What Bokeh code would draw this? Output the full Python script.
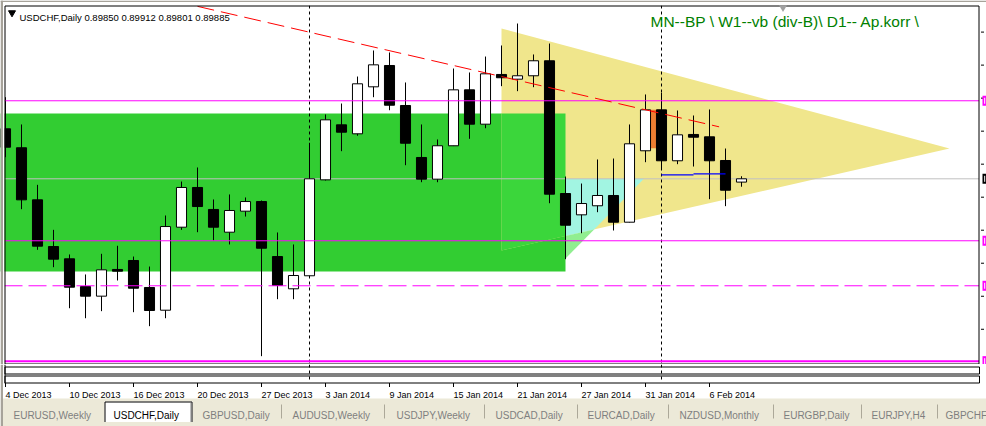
import numpy as np
from bokeh.plotting import figure
from bokeh.models import Range1d, ColumnDataSource
from bokeh.layouts import column
from bokeh.embed import file_html
from bokeh.resources import INLINE
from bokeh.core.properties import value

# ---------------- data ----------------
symbol = "USDCHF,Daily"
dates = ["4 Dec 2013", "5 Dec 2013", "6 Dec 2013", "9 Dec 2013", "10 Dec 2013", "11 Dec 2013",
         "12 Dec 2013", "13 Dec 2013", "16 Dec 2013", "17 Dec 2013", "18 Dec 2013", "19 Dec 2013",
         "20 Dec 2013", "23 Dec 2013", "24 Dec 2013", "26 Dec 2013", "27 Dec 2013", "30 Dec 2013",
         "31 Dec 2013", "2 Jan 2014", "3 Jan 2014", "6 Jan 2014", "7 Jan 2014", "8 Jan 2014",
         "9 Jan 2014", "10 Jan 2014", "13 Jan 2014", "14 Jan 2014", "15 Jan 2014", "16 Jan 2014",
         "17 Jan 2014", "20 Jan 2014", "21 Jan 2014", "22 Jan 2014", "23 Jan 2014", "24 Jan 2014",
         "27 Jan 2014", "28 Jan 2014", "29 Jan 2014", "30 Jan 2014", "31 Jan 2014", "3 Feb 2014",
         "4 Feb 2014", "5 Feb 2014", "6 Feb 2014", "7 Feb 2014", "10 Feb 2014"]

opens = [0.90415, 0.90214, 0.89662, 0.89167, 0.89037, 0.88743, 0.88641, 0.88924, 0.89019, 0.88733,
         0.88492, 0.89372, 0.89793, 0.89560, 0.89319, 0.89542, 0.89644, 0.89061, 0.88719, 0.88857,
         0.89874, 0.90457, 0.90362, 0.90860, 0.91086, 0.90662, 0.90111, 0.89881, 0.90235, 0.90828,
         0.90464, 0.90991, 0.90941, 0.90977, 0.91136, 0.89729, 0.89503, 0.89599, 0.89708, 0.89425,
         0.90182, 0.90616, 0.90076, 0.90355, 0.90330, 0.90079, 0.89850]
highs = [0.90750, 0.90461, 0.89821, 0.89344, 0.89083, 0.88871, 0.89090, 0.89175, 0.89061, 0.88955,
         0.89496, 0.89856, 0.90005, 0.89666, 0.89719, 0.89687, 0.89655, 0.89316, 0.89189, 0.90267,
         0.90567, 0.90683, 0.90969, 0.91245, 0.91224, 0.90906, 0.90461, 0.90302, 0.91054, 0.91012,
         0.91181, 0.91298, 0.91531, 0.91203, 0.91319, 0.89909, 0.89835, 0.90090, 0.90100, 0.90461,
         0.90779, 0.90797, 0.90609, 0.90556, 0.90620, 0.90206, 0.89912]
lows = [0.90114, 0.89563, 0.89132, 0.88948, 0.88513, 0.88407, 0.88482, 0.88807, 0.88471, 0.88323,
        0.88407, 0.89344, 0.89319, 0.89231, 0.89189, 0.89485, 0.88005, 0.88609, 0.88609, 0.88849,
        0.89867, 0.90178, 0.90341, 0.90750, 0.90612, 0.90029, 0.89849, 0.89849, 0.90232, 0.90309,
        0.90421, 0.90867, 0.90814, 0.90856, 0.89626, 0.89033, 0.89308, 0.89531, 0.89337, 0.89422,
        0.90061, 0.89987, 0.90040, 0.90015, 0.89669, 0.89595, 0.89801]
closes = [0.90220, 0.89662, 0.89171, 0.89033, 0.88736, 0.88641, 0.88920, 0.88906, 0.88725, 0.88489,
          0.89379, 0.89793, 0.89591, 0.89372, 0.89549, 0.89644, 0.89149, 0.88754, 0.88860, 0.89885,
          0.90510, 0.90379, 0.90892, 0.91093, 0.90665, 0.90262, 0.89881, 0.90235, 0.90828, 0.90464,
          0.90998, 0.90956, 0.90977, 0.91136, 0.89722, 0.89393, 0.89623, 0.89708, 0.89425, 0.90256,
          0.90616, 0.90076, 0.90351, 0.90326, 0.90076, 0.89764, 0.89885]

label_every = 4
price_ticks = [0.8829, 0.8864, 0.8899, 0.8934, 0.8969, 0.9004, 0.9039, 0.9074, 0.9109, 0.9144]

# chart objects (bar index, price)
zone_x0, zone_x1, zone_top, zone_bottom = -2, 35, 0.90577, 0.88902
tri_x = [31, 31, 59]
tri_p = [0.91478, 0.89125, 0.90206]
small_x = [35, 39.9, 35]
small_p = [0.89885, 0.89885, 0.89040]
orange_x0, orange_x1, orange_top, orange_bottom = 40, 41, 0.90616, 0.90209
trend_x = [12, 44.6]
trend_p = [0.91713, 0.90436]
blue_x0 = [41, 43]
blue_x1 = [43, 45]
blue_p = [0.89927, 0.89938]
magenta_solid = [0.90712, 0.89228]
magenta_dash = [0.88751]
magenta_thick = [0.87952]
bid = closes[-1]
title = "MN--BP \\ W1--vb (div-B)\\ D1-- Ap.korr \\"
tabs = ["EURUSD,Weekly", "USDCHF,Daily", "GBPUSD,Daily", "AUDUSD,Weekly", "USDJPY,Weekly",
        "USDCAD,Daily", "EURCAD,Daily", "NZDUSD,Monthly", "EURGBP,Daily", "EURJPY,H4", "GBPCHF"]
active_tab = "USDCHF,Daily"

# ---------------- layout (window pixel geometry) ----------------
W = 986
HA, HB = 364, 62
X_BAR0, X_PER_BAR = 5.0, 16.0
PX_BID, PRICE_PER_PX = 178.3, 0.000106


def xd(px):
    return (px - X_BAR0) / X_PER_BAR


def yd(py):
    return bid + (PX_BID - py) * PRICE_PER_PX


FONT = value("Liberation Sans")
WIN_GRAY = "#A7A39A"
tab_x = [13, 113, 202, 292, 396, 495, 587, 679, 783, 871, 945]
tab_sep = [281, 384, 484, 577, 668, 773, 861, 937]

n = len(dates)
xs = np.arange(n)
o, h, l, c = map(np.array, (opens, highs, lows, closes))
src = ColumnDataSource(dict(x=xs, top=np.maximum(o, c), bottom=np.minimum(o, c), high=h, low=l,
                            fill=["white" if cc >= oo else "black" for oo, cc in zip(o, c)]))
month_sep = [i for i in range(1, n) if dates[i].split()[1] != dates[i - 1].split()[1]]
label_idx = list(range(0, n, label_every))

# ---------------- main chart ----------------
pA = figure(width=W, height=HA, output_backend="svg", toolbar_location=None,
            x_range=Range1d(xd(0), xd(986)), y_range=Range1d(yd(364), yd(0)),
            x_axis_location=None, y_axis_location=None,
            min_border_left=0, min_border_right=0, min_border_top=0, min_border_bottom=0)
pA.grid.grid_line_color = None
pA.outline_line_color = None
pA.background_fill_color = "white"
pA.border_fill_color = "white"

XL, XR = xd(4), xd(978.5)

# filled objects
pA.quad(left=zone_x0, right=zone_x1, top=zone_top, bottom=zone_bottom, fill_color="#32CD32", line_color=None)
pA.patch(tri_x, tri_p, fill_color="#F0E68C", line_color=None)


def edge(x):
    return tri_p[1] + (x - tri_x[1]) * (tri_p[2] - tri_p[1]) / (tri_x[2] - tri_x[1])


def intersect(p1, p2, p3, p4):
    (x1, y1), (x2, y2), (x3, y3), (x4, y4) = p1, p2, p3, p4
    d = (x1 - x2) * (y3 - y4) - (y1 - y2) * (x3 - x4)
    t = ((x1 - x3) * (y3 - y4) - (y1 - y3) * (x3 - x4)) / d
    return (x1 + t * (x2 - x1), y1 + t * (y2 - y1))


pA.patch([tri_x[0], zone_x1, zone_x1, tri_x[0]], [zone_top, zone_top, edge(zone_x1), edge(tri_x[0])],
         fill_color="#3BD63B", line_color=None)
P, Q, R = (small_x[0], small_p[0]), (small_x[1], small_p[1]), (small_x[2], small_p[2])
I = intersect(Q, R, (tri_x[1], tri_p[1]), (tri_x[2], tri_p[2]))
E = (small_x[0], edge(small_x[0]))
pA.patch([P[0], Q[0], I[0], E[0]], [P[1], Q[1], I[1], E[1]], fill_color="#A2F5E2", line_color=None)
pA.patch([E[0], I[0], R[0]], [E[1], I[1], R[1]], fill_color="#90EE90", line_color=None)
pA.quad(left=orange_x0, right=orange_x1, top=orange_top, bottom=orange_bottom,
        fill_color="#EE7E32", line_color=None)

# background lines
pA.segment(x0=[XL], y0=[bid], x1=[XR], y1=[bid], line_color="#C0C0C0", line_width=1)
pA.segment(x0=month_sep, y0=[yd(5)] * len(month_sep), x1=month_sep, y1=[yd(364)] * len(month_sep),
           line_color="black", line_width=1, line_dash="3 3")

# candles
pA.segment(x0="x", y0="high", x1="x", y1="low", source=src, line_color="black", line_width=1)
pA.vbar(x="x", width=0.63, top="top", bottom="bottom", source=src,
        fill_color="fill", line_color="black", line_width=1)

# foreground lines
for lvl in magenta_solid:
    pA.segment(x0=[XL], y0=[lvl], x1=[XR], y1=[lvl], line_color="#FF00FF", line_width=1)
for lvl in magenta_dash:
    pA.segment(x0=[XL], y0=[lvl], x1=[XR], y1=[lvl], line_color="#FF00FF", line_width=1, line_dash="18 6")
for lvl in magenta_thick:
    pA.segment(x0=[XL], y0=[lvl], x1=[XR], y1=[lvl], line_color="#FF00FF", line_width=2)
pA.line(trend_x, trend_p, line_color="#FF0000", line_width=1, line_dash="17 7")
pA.segment(x0=blue_x0, y0=blue_p, x1=blue_x1, y1=blue_p, line_color="#0000FF", line_width=1.3)

# window margins (clip chart at the frame) and frame
pA.quad(left=[xd(0)], right=[xd(4)], top=[yd(0)], bottom=[yd(364)], fill_color="white", line_color=None)
pA.quad(left=[xd(0)], right=[xd(986)], top=[yd(0)], bottom=[yd(5)], fill_color="white", line_color=None)
pA.quad(left=[xd(0)], right=[xd(2.5)], top=[yd(0)], bottom=[yd(364)], fill_color=WIN_GRAY, line_color=None)
pA.quad(left=[xd(0)], right=[xd(986)], top=[yd(0)], bottom=[yd(1.5)], fill_color=WIN_GRAY, line_color=None)
pA.segment(x0=[xd(4.5), xd(4.5), XR, xd(4.5)], y0=[yd(5.5), yd(5.5), yd(5.5), yd(363.5)],
           x1=[XR, xd(4.5), XR, XR], y1=[yd(5.5), yd(364), yd(364), yd(363.5)],
           line_color="black", line_width=1)

# price scale ticks and cut-off price labels
pA.segment(x0=[xd(980.5)] * len(price_ticks), y0=price_ticks, x1=[xd(983.5)] * len(price_ticks),
           y1=price_ticks, line_color="black", line_width=1)
lab_p = magenta_solid + magenta_dash + magenta_thick + [bid]
lab_c = ["#FF00FF"] * (len(lab_p) - 1) + ["black"]
half = 5 * PRICE_PER_PX
pA.quad(left=[xd(982)] * len(lab_p), right=[xd(990)] * len(lab_p),
        top=[v + half for v in lab_p], bottom=[v - half for v in lab_p], fill_color=lab_c, line_color=None)
pA.segment(x0=[xd(984.2)] * len(lab_p), y0=[v + half * 0.6 for v in lab_p],
           x1=[xd(984.2)] * len(lab_p), y1=[v - half * 0.6 for v in lab_p], line_color="white", line_width=1)

# texts
header = symbol + "  " + " ".join(f"{v:.5f}" for v in (opens[-1], highs[-1], lows[-1], closes[-1]))
pA.scatter(x=[xd(11.5)], y=[yd(12.3)], marker="inverted_triangle", size=7,
           fill_color="black", line_color="black")
pA.text(x=[xd(19)], y=[yd(17.3)], text=[header], text_font=FONT, text_font_size=value("9.5px"),
        text_color="black", text_align="left", text_baseline="alphabetic")
pA.text(x=[xd(650)], y=[yd(20.5)], text=[title], text_font=FONT, text_font_size=value("15.5px"),
        text_color="#008000", text_align="left", text_baseline="alphabetic")
pA.scatter(x=[xd(782.5)], y=[yd(7)], marker="inverted_triangle", size=8,
           fill_color="#A0A0A0", line_color=None)

# ---------------- sub-windows, date scale and tab bar ----------------
pB = figure(width=W, height=HB, output_backend="svg", toolbar_location=None,
            x_range=Range1d(xd(0), xd(986)), y_range=Range1d(426, 364),
            x_axis_location=None, y_axis_location=None,
            min_border_left=0, min_border_right=0, min_border_top=0, min_border_bottom=0)
pB.grid.grid_line_color = None
pB.outline_line_color = None
pB.background_fill_color = "white"
pB.border_fill_color = "white"
pB.quad(left=[xd(4.5)] * 2, right=[xd(979)] * 2, top=[366.5, 375.5], bottom=[373.5, 382.5],
        fill_color=None, line_color="black", line_width=1)
pB.segment(x0=[xd(4.5)], y0=[364], x1=[xd(4.5)], y1=[383], line_color="black", line_width=1)
pB.segment(x0=month_sep, y0=[364] * len(month_sep), x1=month_sep, y1=[382] * len(month_sep),
           line_color="black", line_width=1, line_dash="3 3")
pB.segment(x0=label_idx, y0=[382.5] * len(label_idx), x1=label_idx, y1=[386.5] * len(label_idx),
           line_color="black", line_width=1)
pB.text(x=label_idx, y=[394.5] * len(label_idx), text=[dates[i] for i in label_idx], text_font=FONT,
        text_font_size=value("9px"), text_color="black", text_align="left", text_baseline="alphabetic")

# tab bar
pB.quad(left=[xd(0)], right=[xd(986)], top=[398], bottom=[426], fill_color="#ECE9D8", line_color=None)
pB.quad(left=[xd(0)], right=[xd(2.5)], top=[364], bottom=[426], fill_color=WIN_GRAY, line_color=None)
ai = tabs.index(active_tab)
pB.quad(left=[xd(104)], right=[xd(192)], top=[401], bottom=[421.5], fill_color="white", line_color=None)
pB.multi_line(xs=[[xd(104.5), xd(104.5), xd(191.5), xd(191.5)]], ys=[[421.5, 401.5, 401.5, 421.5]],
              line_color="black", line_width=1)
pB.segment(x0=[xd(190.5)], y0=[402], x1=[xd(190.5)], y1=[421.5], line_color="#808080", line_width=1)
pB.segment(x0=[xd(v) for v in tab_sep], y0=[404] * len(tab_sep), x1=[xd(v) for v in tab_sep],
           y1=[418] * len(tab_sep), line_color="#ACA899", line_width=1)
pB.text(x=[xd(v) for v in tab_x], y=[415] * len(tabs), text=tabs, text_font=FONT,
        text_font_size=value("10px"),
        text_color=["black" if i == ai else "#7F7F7F" for i in range(len(tabs))],
        text_align="left", text_baseline="alphabetic")

layout = column(pA, pB, spacing=0)
open("out.html", "w").write(file_html(layout, INLINE))
